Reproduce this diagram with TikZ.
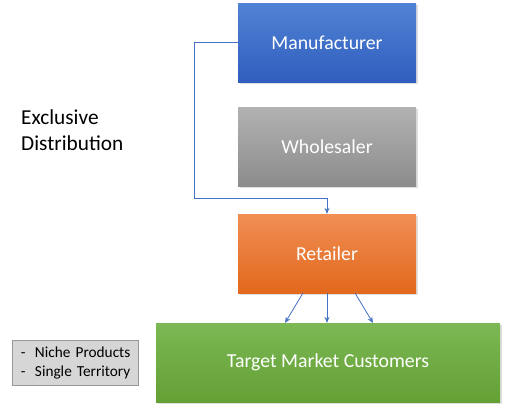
\documentclass[tikz,border=0pt]{standalone}
\usepackage{fontspec}
\setmainfont{Carlito}
\usetikzlibrary{arrows.meta,shadows}
\definecolor{bluetop}{RGB}{80,130,212}
\definecolor{bluebot}{RGB}{48,94,190}
\definecolor{graytop}{RGB}{178,178,178}
\definecolor{graybot}{RGB}{140,140,140}
\definecolor{orgtop}{RGB}{240,142,84}
\definecolor{orgbot}{RGB}{226,104,28}
\definecolor{grntop}{RGB}{124,184,84}
\definecolor{grnbot}{RGB}{100,160,52}
\definecolor{lnblue}{RGB}{68,114,196}
\definecolor{notefill}{RGB}{214,214,214}
\definecolor{noteedge}{RGB}{150,150,150}
\begin{document}
\begin{tikzpicture}[x=1pt,y=-1pt,
  box/.style={draw=none,minimum width=178pt,minimum height=79pt,inner sep=0pt,
    text=white,font=\fontsize{19.8}{23}\selectfont,
    drop shadow={shadow xshift=1.5pt,shadow yshift=-1.5pt,opacity=0.25}},
  conn/.style={draw=lnblue,line width=0.8pt,-{Stealth[length=6pt,width=5pt]}}]
\useasboundingbox (0,0) rectangle (517,410);
\node[box,top color=bluetop,bottom color=bluebot] (man) at (327,42.5) {Manufacturer};
\node[box,top color=graytop,bottom color=graybot] (who) at (327,146.5) {Wholesaler};
\node[box,top color=orgtop,bottom color=orgbot] (ret) at (327,253.5) {Retailer};
\node[box,top color=grntop,bottom color=grnbot,minimum width=344pt] (tmc) at (328,362.5) {Target Market Customers};
\node[draw=noteedge,fill=notefill,text width=126pt,minimum height=45pt,inner xsep=0pt,inner ysep=0pt,
  font=\fontsize{15.3}{19}\selectfont,align=left] (note) at (75,362.5)
  {\hspace*{9pt}\makebox[14pt][l]{-}Niche Products\\\hspace*{9pt}\makebox[14pt][l]{-}Single Territory};
\node[anchor=north west,align=left,font=\fontsize{21.3}{26}\selectfont,inner sep=0pt] (lbl) at (21,110)
  {Exclusive\\Distribution};
\coordinate (c1) at (194,42.5);
\coordinate (c2) at (194,198);
\coordinate (c3) at (327,198);
\draw[draw=lnblue,line width=0.8pt] (man.west) -- (c1) -- (c2) -- (c3);
\draw[conn] (c3) -- (ret.north);
\coordinate (r1) at (303,293);
\coordinate (r3) at (355,293);
\coordinate (t1) at (285,323);
\coordinate (t3) at (373,323);
\draw[conn] (r1) -- (t1);
\draw[conn] (ret.south) -- (tmc.north -| ret.south);
\draw[conn] (r3) -- (t3);
\end{tikzpicture}
\end{document}
